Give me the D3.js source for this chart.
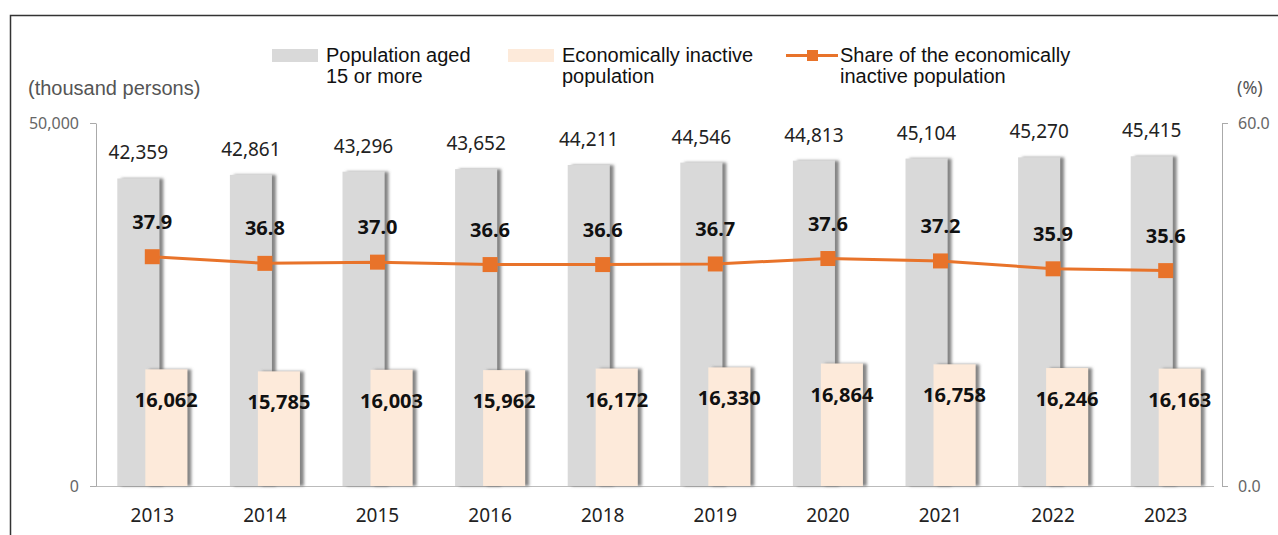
<!DOCTYPE html>
<html>
<head>
<meta charset="utf-8">
<script src="https://cdn.jsdelivr.net/npm/d3@7"></script>
<style>
    body { margin: 0; background: #fff; }
    svg { display: block; }
    .num { font-family: "Noto Sans", "Open Sans", sans-serif; }
    .arial { font-family: "Liberation Sans", Arial, sans-serif; }
</style>
</head>
<body>
<div id="chart"></div>
<script>
const years = ["2013", "2014", "2015", "2016", "2018", "2019", "2020", "2021", "2022", "2023"];
const population15 = [42359, 42861, 43296, 43652, 44211, 44546, 44813, 45104, 45270, 45415];
const inactive = [16062, 15785, 16003, 15962, 16172, 16330, 16864, 16758, 16246, 16163];
const inactiveShare = [37.9, 36.8, 37.0, 36.6, 36.6, 36.7, 37.6, 37.2, 35.9, 35.6];
const leftTicks = [0, 50000];
const rightTicks = [0, 60];

(function draw() {
    const width = 1278;
    const height = 535;
    const top = 123, bottom = 486, left = 96, right = 1222;

    const svg = d3.select("#chart")
        .append("svg")
        .attr("width", width)
        .attr("height", height);

    const defs = svg.append("defs");
    const shadow = defs.append("filter")
        .attr("id", "shadow")
        .attr("x", "-20%").attr("y", "-5%")
        .attr("width", "150%").attr("height", "110%");
    shadow.append("feDropShadow")
        .attr("dx", 4).attr("dy", 0)
        .attr("stdDeviation", 1.6)
        .attr("flood-color", "#666")
        .attr("flood-opacity", 0.8);

    // frame
    svg.append("path")
        .attr("d", `M10.5,${height} V15.5 H${width}`)
        .attr("fill", "none")
        .attr("stroke", "#333")
        .attr("stroke-width", 1.5);

    const x = d3.scaleBand().domain(years).range([left, right]);
    const yLeft = d3.scaleLinear().domain([0, 50000]).range([bottom, top]);
    const yRight = d3.scaleLinear().domain([0, 60]).range([bottom, top]);

    const barW = 42;
    const off = 14;
    const cx = d => x(d) + x.bandwidth() / 2;

    // baseline
    svg.append("line")
        .attr("x1", left).attr("x2", right - 8)
        .attr("y1", bottom + 0.5).attr("y2", bottom + 0.5)
        .attr("stroke", "#bbb");

    // axes
    const axisL = svg.append("g")
        .attr("transform", `translate(${left},0)`)
        .call(d3.axisLeft(yLeft).tickValues(leftTicks).tickSize(6).tickSizeOuter(0).tickPadding(11).tickFormat(d3.format(",")));
    const axisR = svg.append("g")
        .attr("transform", `translate(${right},0)`)
        .call(d3.axisRight(yRight).tickValues(rightTicks).tickSize(6).tickSizeOuter(0).tickPadding(10).tickFormat(d3.format(".1f")));
    [axisL, axisR].forEach(a => {
        a.select(".domain").attr("stroke", "#aaa");
        a.selectAll(".tick line").attr("stroke", "#aaa");
        a.selectAll("text")
            .attr("class", "num")
            .attr("fill", "#666")
            .style("font-size", "16px");
    });

    // gray bars
    svg.append("g").selectAll("rect")
        .data(years)
        .join("rect")
        .attr("x", d => cx(d) - off - barW / 2)
        .attr("y", (d, i) => yLeft(population15[i]))
        .attr("width", barW)
        .attr("height", (d, i) => bottom - yLeft(population15[i]))
        .attr("fill", "#d9d9d9")
        .attr("filter", "url(#shadow)");

    // peach bars
    svg.append("g").selectAll("rect")
        .data(years)
        .join("rect")
        .attr("x", d => cx(d) + off - barW / 2)
        .attr("y", (d, i) => yLeft(inactive[i]))
        .attr("width", barW)
        .attr("height", (d, i) => bottom - yLeft(inactive[i]))
        .attr("fill", "#fdeada")
        .attr("filter", "url(#shadow)");

    // share line
    const line = d3.line()
        .x(d => cx(d))
        .y((d, i) => yRight(inactiveShare[i]));
    svg.append("path")
        .datum(years)
        .attr("d", line)
        .attr("fill", "none")
        .attr("stroke", "#e8732a")
        .attr("stroke-width", 3);
    svg.append("g").selectAll("rect")
        .data(years)
        .join("rect")
        .attr("x", d => cx(d) - 7.5)
        .attr("y", (d, i) => yRight(inactiveShare[i]) - 7.5)
        .attr("width", 15)
        .attr("height", 15)
        .attr("fill", "#e8732a");

    // labels
    svg.append("g").selectAll("text")
        .data(years)
        .join("text")
        .attr("class", "num")
        .attr("x", d => cx(d) - off)
        .attr("y", (d, i) => yLeft(population15[i]) - 19)
        .attr("text-anchor", "middle")
        .attr("fill", "#222")
        .style("font-size", "19px")
        .text((d, i) => d3.format(",")(population15[i]));

    svg.append("g").selectAll("text")
        .data(years)
        .join("text")
        .attr("class", "num")
        .attr("x", d => cx(d) + off)
        .attr("y", (d, i) => yLeft(inactive[i]) + 38)
        .attr("text-anchor", "middle")
        .attr("fill", "#111")
        .style("font-size", "20px")
        .style("font-weight", "bold")
        .text((d, i) => d3.format(",")(inactive[i]));

    svg.append("g").selectAll("text")
        .data(years)
        .join("text")
        .attr("class", "num")
        .attr("x", d => cx(d))
        .attr("y", (d, i) => yRight(inactiveShare[i]) - 28)
        .attr("text-anchor", "middle")
        .attr("fill", "#111")
        .style("font-size", "20px")
        .style("font-weight", "bold")
        .text((d, i) => d3.format(".1f")(inactiveShare[i]));

    svg.append("g").selectAll("text")
        .data(years)
        .join("text")
        .attr("class", "num")
        .attr("x", d => cx(d))
        .attr("y", 522)
        .attr("text-anchor", "middle")
        .attr("fill", "#222")
        .style("font-size", "19px")
        .text(d => d);

    // axis titles
    svg.append("text")
        .attr("class", "arial")
        .attr("x", 28).attr("y", 95)
        .attr("fill", "#555")
        .style("font-size", "20px")
        .text("(thousand persons)");
    svg.append("text")
        .attr("class", "num")
        .attr("x", 1237).attr("y", 94)
        .attr("fill", "#555")
        .style("font-size", "18px")
        .text("(%)");

    // legend
    const legend = svg.append("g").attr("class", "arial").style("font-size", "20px").attr("fill", "#111");
    const items = [
        { x: 272, kind: "bar", color: "#d9d9d9", lines: ["Population aged", "15 or more"] },
        { x: 508, kind: "bar", color: "#fdeada", lines: ["Economically inactive", "population"] },
        { x: 786, kind: "line", color: "#e8732a", lines: ["Share of the economically", "inactive population"] }
    ];
    items.forEach(it => {
        if (it.kind === "bar") {
            legend.append("rect")
                .attr("x", it.x).attr("y", 49)
                .attr("width", 46).attr("height", 13)
                .attr("fill", it.color);
        } else {
            legend.append("line")
                .attr("x1", it.x).attr("x2", it.x + 52)
                .attr("y1", 55.5).attr("y2", 55.5)
                .attr("stroke", it.color).attr("stroke-width", 3);
            legend.append("rect")
                .attr("x", it.x + 21).attr("y", 50)
                .attr("width", 11).attr("height", 11)
                .attr("fill", it.color);
        }
        const t = legend.append("text").attr("x", it.x + 54).attr("y", 62);
        it.lines.forEach((s, k) => {
            t.append("tspan").attr("x", it.x + 54).attr("dy", k ? 21 : 0).text(s);
        });
    });
})();
</script>
</body>
</html>
